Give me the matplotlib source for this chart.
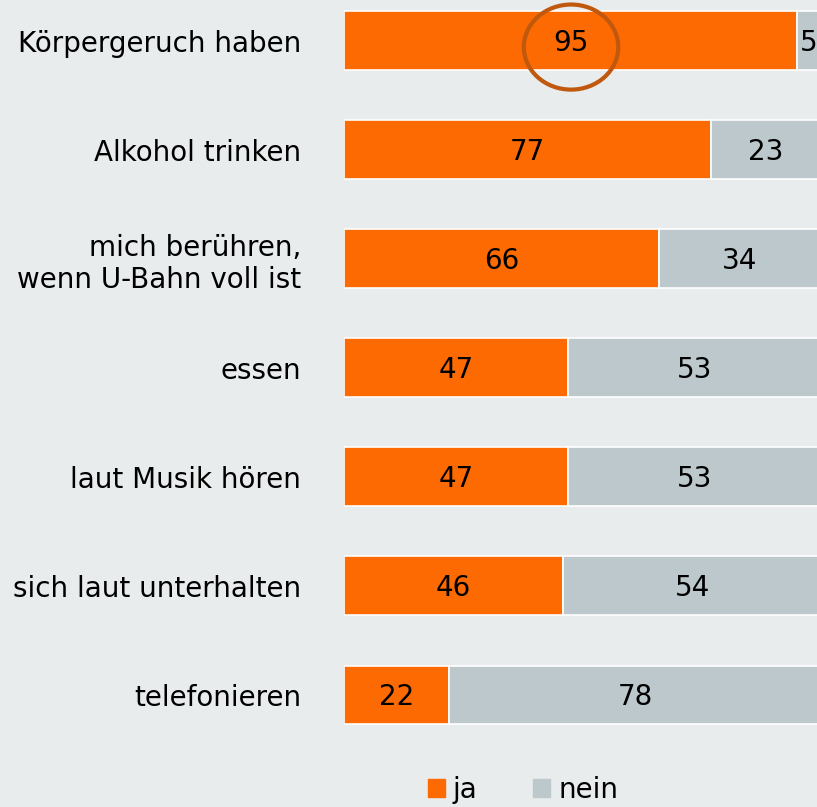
import numpy as np
import matplotlib.pyplot as plt
from matplotlib.patches import Ellipse, Patch

categories = ["Körpergeruch haben", "Alkohol trinken", "mich berühren,\nwenn U-Bahn voll ist",
              "essen", "laut Musik hören", "sich laut unterhalten", "telefonieren"]
ja = [95, 77, 66, 47, 47, 46, 22]
nein = [5, 23, 34, 53, 53, 54, 78]

c_ja = "#fd6a02"
c_nein = "#bcc8cc"
bg = "#e8ecec"

plt.rcParams['font.family'] = ['DejaVu Sans']

fig = plt.figure(figsize=(8.17, 8.07), dpi=100, facecolor=bg)
ax = fig.add_axes([344 / 817, 57 / 807, 1 - 344 / 817, 750 / 807])
ax.set_facecolor(bg)

y = np.arange(len(categories))
ax.barh(y, ja, height=0.54, color=c_ja, edgecolor="white", linewidth=1.2)
ax.barh(y, nein, left=ja, height=0.54, color=c_nein, edgecolor="white", linewidth=1.2)

for i in range(len(categories)):
    ax.text(ja[i] / 2, y[i] + 0.02, str(ja[i]), ha="center", va="center", fontsize=20, color="black")
    ax.text(ja[i] + nein[i] / 2, y[i] + 0.02, str(nein[i]), ha="center", va="center", fontsize=20, color="black")

# circle round the top value
ax.add_patch(Ellipse((47.6, 0.06), 19.8, 0.78, fill=False, edgecolor="#c0580e", linewidth=3, zorder=5))

ax.set_xlim(0, (817 - 344) / 477 * 100)
ax.set_ylim(6 + (750 - 695) / 109, -40.5 / 109)
ax.set_yticks(y)
ax.set_yticklabels(categories, fontsize=20, ha="right", multialignment="right")
ax.tick_params(axis="y", length=0, pad=31)
ax.set_xticks([])
for s in ax.spines.values():
    s.set_visible(False)

handles = [Patch(color=c_ja, label="ja"), Patch(color=c_nein, label="nein")]
fig.legend(handles=handles, loc="center", bbox_to_anchor=(523 / 817, 1 - 790 / 807), ncol=2,
           frameon=False, fontsize=20, handlelength=0.6, handleheight=0.6, handletextpad=0.3,
           columnspacing=2.0)

fig.savefig("out.png", dpi=100, facecolor=bg)
